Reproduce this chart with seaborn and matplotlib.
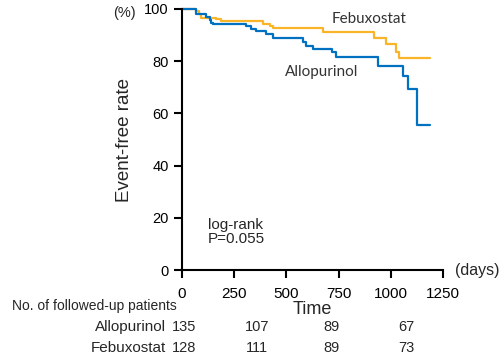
import pandas as pd
import seaborn as sns
import matplotlib.pyplot as plt

# curvas de Kaplan-Meier (dias, % livre de evento)
allo_days = [0, 69, 117, 132, 141, 148, 308, 332, 356, 404, 436, 578, 594, 626, 717, 737, 937, 1057, 1084, 1127, 1188]
allo_rate = [100, 97.9, 97.0, 95.7, 94.8, 94.2, 93.4, 92.5, 91.5, 90.6, 88.7, 87.3, 86.0, 84.7, 83.6, 81.7, 78.1, 74.3, 69.2, 55.4, 55.4]
febu_days = [0, 69, 80, 89, 164, 188, 388, 420, 436, 674, 920, 977, 1025, 1038, 1188]
febu_rate = [100, 99.3, 97.9, 96.7, 96.1, 95.3, 94.4, 93.4, 92.7, 91.1, 89.0, 86.4, 83.6, 81.2, 81.2]

# tabela de pacientes em seguimento
risk_groups = ['Allopurinol', 'Febuxostat']
risk_days = [10, 360, 715, 1075]
risk_allo = [135, 107, 89, 67]
risk_febu = [128, 111, 89, 73]

x_ticks = [0, 250, 500, 750, 1000, 1250]
y_ticks = [0, 20, 40, 60, 80, 100]

cores = {'Allopurinol': '#0070C0', 'Febuxostat': '#F9B428'}

df = pd.concat([
    pd.DataFrame({'days': allo_days, 'rate': allo_rate, 'group': 'Allopurinol'}),
    pd.DataFrame({'days': febu_days, 'rate': febu_rate, 'group': 'Febuxostat'}),
])

sns.set_style('ticks')
plt.rcParams['font.family'] = ['Liberation Sans', 'DejaVu Sans']

fig = plt.figure(figsize=(5.04, 3.61), dpi=100)
ax = fig.add_axes([182/504, 91/361, 261/504, 261/361])

sns.lineplot(data=df, x='days', y='rate', hue='group', palette=cores,
             hue_order=['Febuxostat', 'Allopurinol'], drawstyle='steps-post',
             linewidth=1.6, legend=False, ax=ax)
for ln in ax.lines:
    ln.set_clip_on(False)

ax.set_xlim(0, 1250)
ax.set_ylim(0, 100)
ax.set_xticks(x_ticks)
ax.set_yticks(y_ticks)
ax.tick_params(axis='both', direction='out', length=6, width=1.5, colors='black', labelsize=10.5)
ax.tick_params(axis='x', pad=6, labelsize=11)
for s in ['left', 'bottom']:
    ax.spines[s].set_linewidth(1.5)
    ax.spines[s].set_color('black')
sns.despine(ax=ax)
ax.set_xlabel('')
ax.set_ylabel('Event-free rate', fontsize=13.5, labelpad=8)

# rótulos das curvas (fonte tipo Calibri)
ax.text(896, 96, 'Febuxostat', family=['Lato', 'DejaVu Sans'], fontsize=11, ha='center', va='center', color='#333333')
ax.text(668, 76, 'Allopurinol', family=['Lato', 'DejaVu Sans'], fontsize=11, ha='center', va='center', color='#333333')
ax.text(125, 17.4, 'log-rank', fontsize=11, ha='left', va='center')
ax.text(125, 11.7, 'P=0.055', fontsize=11, ha='left', va='center')

fig.text(136/504, 1 - 13/361, '(%)', fontsize=10.5, ha='right', va='center')
fig.text(455/504, 1 - 270/361, '(days)', fontsize=11.5, ha='left', va='center')
fig.text(312/504, 1 - 310/361, 'Time', fontsize=13, ha='center', va='center')
fig.text(12/504, 1 - 306/361, 'No. of followed-up patients', fontsize=10, ha='left', va='center')

# tabela de risco: x em dias, y em fração da figura
for nome, nums, ypx in zip(risk_groups, [risk_allo, risk_febu], [327, 348]):
    yfig = 1 - ypx/361
    fig.text(166/504, yfig, nome, fontsize=11, ha='right', va='center')
    for d, n in zip(risk_days, nums):
        xfig = (182 + d * 261/1250) / 504
        fig.text(xfig, yfig, str(n), fontsize=10.5, ha='center', va='center')

plt.savefig('out.png', dpi=100)
